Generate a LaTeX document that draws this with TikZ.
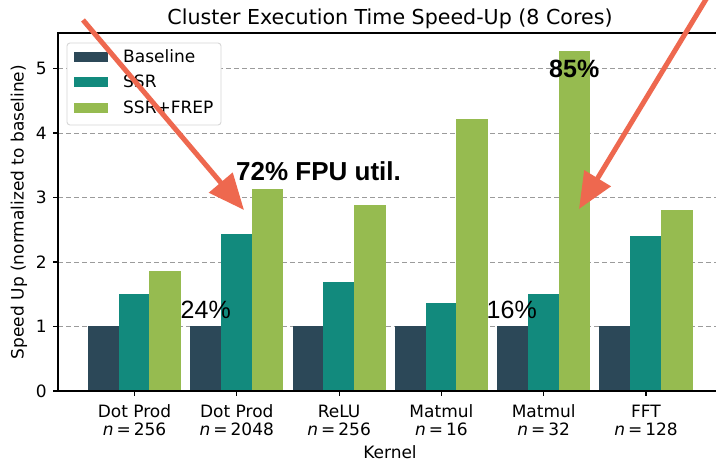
\documentclass[tikz,border=0pt]{standalone}
\usepackage{fontspec}
\setmainfont{DejaVu Sans}
\newfontfamily\arialfont{Liberation Sans}
\usetikzlibrary{arrows.meta}
\definecolor{cBase}{RGB}{44,72,88}
\definecolor{cSSR}{RGB}{18,138,125}
\definecolor{cFREP}{RGB}{150,187,80}
\definecolor{cArrow}{RGB}{238,104,79}
\definecolor{cGrid}{RGB}{155,155,155}
\definecolor{cLeg}{RGB}{215,215,215}
\tikzset{
  ticklab/.style={font=\fontsize{17}{18}\selectfont, inner sep=0pt},
  bar/.style={draw=white, line width=1pt},
  gridline/.style={cGrid, line width=0.9pt, dash pattern=on 5pt off 3pt},
  spine/.style={black, line width=1.1pt},
  annot/.style={inner sep=0pt, anchor=base west},
  callout/.style={cArrow, line width=5pt, -{Triangle[length=36pt,width=30pt]}},
}
\begin{document}
\begin{tikzpicture}[x=1pt,y=-1pt]
\useasboundingbox (0,0) rectangle (716,461);
\fill[white] (0,0) rectangle (716,461);
\begin{scope}
\clip (0,0) rectangle (716,461);
% grid
\foreach \v in {1,...,5}{
  \draw[gridline] (58,{391-64.5*\v}) -- (722,{391-64.5*\v});
}
% bars and x labels
\foreach \i/\s/\f/\la/\lb in {0/1.50/1.85/Dot Prod/256, 1/2.42/3.13/Dot Prod/2048, 2/1.68/2.87/ReLU/256, 3/1.35/4.21/Matmul/16, 4/1.49/5.26/Matmul/32, 5/2.39/2.80/FFT/128}{
  \pgfmathsetmacro\c{134.5+102.3*\i}
  \fill[bar, cBase] ({\c-46.05},391) rectangle ({\c-15.35},{391-64.5});
  \fill[bar, cSSR] ({\c-15.35},391) rectangle ({\c+15.35},{391-64.5*\s});
  \fill[bar, cFREP] ({\c+15.35},391) rectangle ({\c+46.05},{391-64.5*\f});
  \draw[black, line width=1.1pt] (\c,391) -- (\c,396);
  \node[ticklab, anchor=base] (ka\i) at (\c,417) {\la};
  \node[ticklab, anchor=base] (kb\i) at (\c,435) {\textit{n}\hspace{3pt}=\hspace{3pt}\lb};
}
% spines
\draw[spine] (722,33) -- (58,33) -- (58,391) -- (722,391);
% y ticks
\foreach \v in {0,...,5}{
  \draw[black, line width=1.1pt] (53,{391-64.5*\v}) -- (58,{391-64.5*\v});
  \node[ticklab, anchor=east] (yt\v) at (47,{391-64.5*\v}) {\v};
}
% labels
\node[font=\fontsize{20.6}{22}\selectfont, inner sep=0pt, anchor=base] (title) at (390,24) {Cluster Execution Time Speed-Up (8 Cores)};
\node[ticklab, anchor=base] (xlab) at (390,458) {Kernel};
\node[ticklab, rotate=90, anchor=center] (ylab) at (19,212) {Speed Up (normalized to baseline)};
% legend
\draw[cLeg, fill=white, rounded corners=3pt, line width=0.9pt] (67,43) rectangle (221,125);
\fill[cBase] (74,52) rectangle (108,62);
\fill[cSSR] (74,77) rectangle (108,87);
\fill[cFREP] (74,103) rectangle (108,113);
\node[ticklab, anchor=base west] (lg1) at (123,62) {Baseline};
\node[ticklab, anchor=base west] (lg2) at (123,87.5) {SSR};
\node[ticklab, anchor=base west] (lg3) at (123,113) {SSR+FREP};
% annotations
\node[annot, font=\arialfont\bfseries\fontsize{26}{28}\selectfont] (a72) at (236,180) {72\% FPU util.};
\node[annot, font=\arialfont\bfseries\fontsize{25}{27}\selectfont] (a85) at (549,77.5) {85\%};
\node[annot, font=\arialfont\fontsize{25}{27}\selectfont] (a24) at (180.5,318) {24\%};
\node[annot, font=\arialfont\fontsize{25}{27}\selectfont] (a16) at (486.5,318) {16\%};
% callout arrows
\coordinate (s1) at (83,20);
\coordinate (t1) at (244,210);
\coordinate (s2) at (708,-4);
\coordinate (t2) at (579,209);
\draw[callout] (s1) -- (t1);
\draw[callout] (s2) -- (t2);
\end{scope}
\end{tikzpicture}
\end{document}
